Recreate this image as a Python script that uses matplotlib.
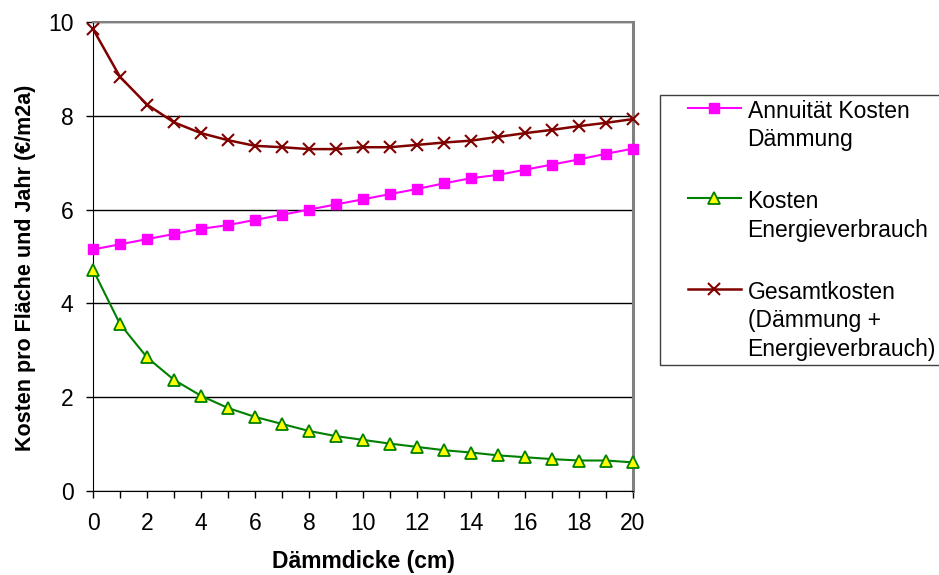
import matplotlib.pyplot as plt
from matplotlib.patches import Rectangle

plt.rcParams['font.family'] = ['Liberation Sans', 'DejaVu Sans']

daemmdicke = list(range(21))
annuitaet = [5.15, 5.26, 5.37, 5.48, 5.59, 5.67, 5.78, 5.89, 6.00, 6.11, 6.22,
             6.33, 6.44, 6.56, 6.67, 6.74, 6.85, 6.96, 7.07, 7.19, 7.30]
energie = [4.72, 3.56, 2.85, 2.37, 2.03, 1.77, 1.58, 1.43, 1.28, 1.17, 1.09,
           1.01, 0.94, 0.87, 0.82, 0.76, 0.72, 0.68, 0.65, 0.65, 0.61]
gesamt = [9.85, 8.83, 8.24, 7.86, 7.63, 7.48, 7.36, 7.33, 7.29, 7.29, 7.33,
          7.33, 7.38, 7.43, 7.47, 7.55, 7.63, 7.70, 7.78, 7.85, 7.93]

labels = ["Annuität Kosten\nDämmung",
          "Kosten\nEnergieverbrauch",
          "Gesamtkosten\n(Dämmung +\nEnergieverbrauch)"]

fig = plt.figure(figsize=(9.39, 5.75), dpi=100)
ax = fig.add_axes([93/939, 1 - 491/575, 540/939, 469/575])

ax.plot(daemmdicke, annuitaet, color='#ff00ff', lw=1.5, marker='s', ms=7,
        mfc='#ff00ff', mec='#ff00ff', label=labels[0], clip_on=False, zorder=3)
ax.plot(daemmdicke, energie, color='#008000', lw=1.5, marker='^', ms=8,
        mfc='#ffff00', mec='#008000', mew=1.3, label=labels[1], clip_on=False, zorder=3)
ax.plot(daemmdicke, gesamt, color='#800000', lw=1.8, marker='x', ms=9,
        mew=1.5, label=labels[2], clip_on=False, zorder=3)

ax.set_xlim(0, 20)
ax.set_ylim(0, 10)
ax.set_xticks(range(0, 21, 2))
ax.set_xticks(range(21), minor=True)
ax.set_yticks(range(0, 11, 2))
ax.yaxis.grid(True, color='black', lw=1)
ax.set_axisbelow(True)
ax.tick_params(axis='both', which='both', direction='out', labelsize=16.5)
ax.tick_params(axis='x', which='both', length=5, width=1, pad=10)
ax.tick_params(axis='y', length=5, width=1, pad=9)

for s in ['top', 'right']:
    ax.spines[s].set_color('#808080')
ax.spines['top'].set_linewidth(1.5)
ax.spines['right'].set_linewidth(2.2)
for s in ['left', 'bottom']:
    ax.spines[s].set_color('black')

ax.set_xlabel("Dämmdicke (cm)", fontsize=16.5, fontweight='bold', labelpad=11)
ax.set_ylabel("Kosten pro Fläche und Jahr (€/m2a)", fontsize=15.5,
              fontweight='bold')
ax.yaxis.set_label_coords(-0.106, 0.475)

# legend box runs past the right edge of the figure
fig.patches.append(Rectangle((660/939, 1 - 365/575), 300/939, 270/575,
                             transform=fig.transFigure, fill=False,
                             edgecolor='#404040', lw=1))
leg = fig.legend(loc='upper left', bbox_to_anchor=(688/939, 1 - 100/575),
                 fontsize=16.5, frameon=False, handlelength=2.3,
                 labelspacing=1.7, borderpad=0, borderaxespad=0,
                 handletextpad=0.3)
for t in leg.get_texts():
    t.set_linespacing(1.3)
# marker sits next to the first line of each entry
for col in leg._legend_handle_box.get_children():
    for row in col.get_children():
        row.align = 'top'

fig.savefig('out.png', dpi=100)
